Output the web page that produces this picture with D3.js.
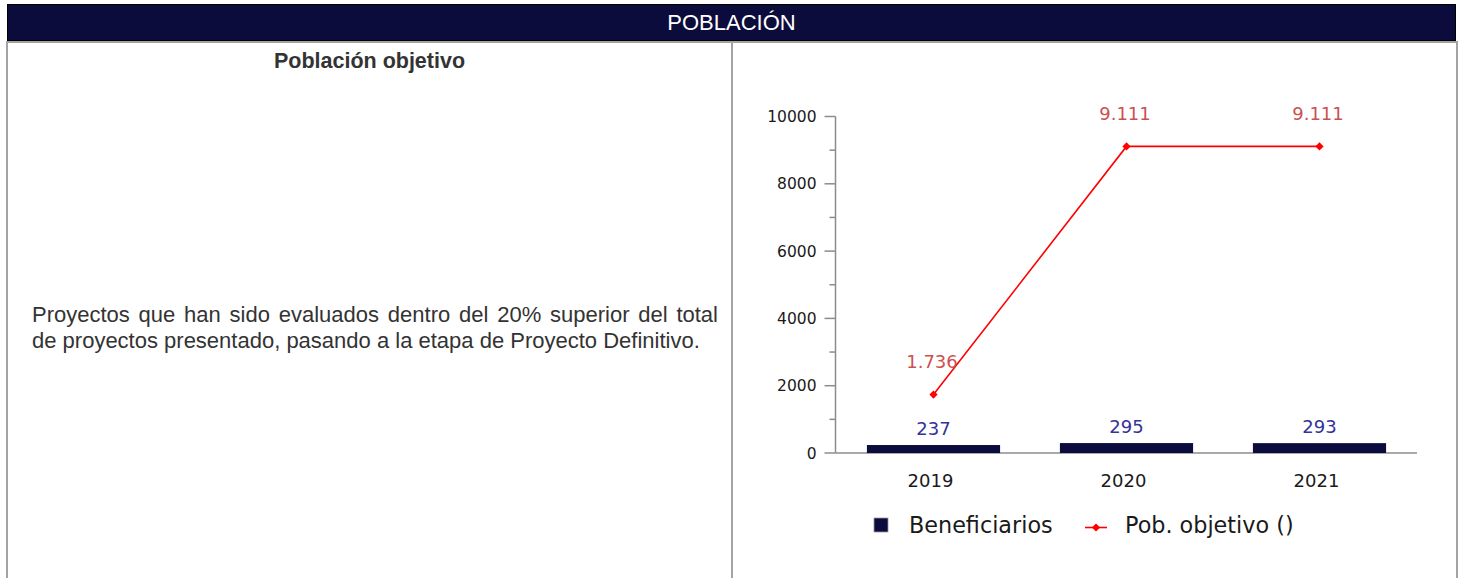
<!DOCTYPE html>
<html>
<head>
<meta charset="utf-8">
<script src="https://cdn.jsdelivr.net/npm/d3@7"></script>
<style>
  html, body { margin: 0; padding: 0; background: #fff; width: 1466px; height: 578px; overflow: hidden; }
  body { position: relative; font-family: "Liberation Sans", Arial, sans-serif; }
  .abs { position: absolute; }
  #header { left: 7px; top: 4px; width: 1447px; height: 35px; background: #0c0c3c; border: 1px solid #000;
            color: #fff; font-size: 22px; line-height: 36px; text-align: center; }
  .gline { background: #a3a3a3; }
  #subtitle { left: 7px; width: 725px; top: 49px; text-align: center; font-weight: bold; font-size: 21.5px; color: #333; }
  #desc { left: 32px; width: 686px; top: 302px; font-size: 22px; line-height: 26px; text-align: justify; color: #333; }
  svg { position: absolute; left: 0; top: 0; }
</style>
</head>
<body>
<div id="header" class="abs">POBLACIÓN</div>
<div class="abs gline" style="left:6px;top:41px;width:1452px;height:2px;"></div>
<div class="abs gline" style="left:6px;top:43px;width:1.5px;height:540px;"></div>
<div class="abs gline" style="left:731px;top:43px;width:1.5px;height:540px;"></div>
<div class="abs gline" style="left:1456px;top:43px;width:1.5px;height:540px;"></div>
<div id="subtitle" class="abs">Población objetivo</div>
<div id="desc" class="abs">Proyectos que han sido evaluados dentro del 20% superior del total de proyectos presentado, pasando a la etapa de Proyecto Definitivo.</div>
<svg id="chart" width="1466" height="578"></svg>
<script>
const years = ["2019", "2020", "2021"];
const beneficiarios = [237, 295, 293];
const beneficiariosLabels = ["237", "295", "293"];
const pobObjetivo = [1736, 9111, 9111];
const pobObjetivoLabels = ["1.736", "9.111", "9.111"];
const yTicks = [0, 2000, 4000, 6000, 8000, 10000];
const yMinorTicks = [1000, 3000, 5000, 7000, 9000];
const legendLabels = ["Beneficiarios", "Pob. objetivo ()"];

const svg = d3.select("#chart");
const chartFont = "'DejaVu Sans', sans-serif";
const axisColor = "#8c8c8c";
const barColor = "#0b0b3d";
const lineColor = "#ff0000";

const y = d3.scaleLinear().domain([0, 10000]).range([453, 116.5]);
const x = d3.scaleBand().domain(years).range([837, 1416]).paddingInner(0.31).paddingOuter(0.155);

const axisLeftX = 835.5, axisRightX = 1417;

// y axis
const gY = svg.append("g").attr("transform", `translate(${axisLeftX},0)`);
gY.append("line").attr("x1", 0).attr("x2", 0).attr("y1", y(10000)).attr("y2", y(0))
  .attr("stroke", axisColor).attr("stroke-width", 1.5);
gY.selectAll("line.major").data(yTicks).enter().append("line").attr("class", "major")
  .attr("x1", -11).attr("x2", 0).attr("y1", d => y(d)).attr("y2", d => y(d))
  .attr("stroke", axisColor).attr("stroke-width", 1.5);
gY.selectAll("line.minor").data(yMinorTicks).enter().append("line").attr("class", "minor")
  .attr("x1", -6).attr("x2", 0).attr("y1", d => y(d)).attr("y2", d => y(d))
  .attr("stroke", axisColor).attr("stroke-width", 1.5);
gY.selectAll("text").data(yTicks).enter().append("text")
  .attr("x", -19).attr("y", d => y(d)).attr("dy", "0.36em")
  .attr("text-anchor", "end").attr("font-family", chartFont).attr("font-size", 15.5)
  .attr("fill", "#1a1a1a").text(d => d);

// x axis
svg.append("line").attr("x1", axisLeftX).attr("x2", axisRightX).attr("y1", y(0)).attr("y2", y(0))
  .attr("stroke", axisColor).attr("stroke-width", 1.5);
svg.selectAll("text.xtick").data(years).enter().append("text").attr("class", "xtick")
  .attr("x", d => x(d) + x.bandwidth() / 2 - 3).attr("y", 487)
  .attr("text-anchor", "middle").attr("font-family", chartFont).attr("font-size", 18)
  .attr("fill", "#1a1a1a").text(d => d);

// bars
svg.selectAll("rect.bar").data(years).enter().append("rect").attr("class", "bar")
  .attr("x", d => x(d)).attr("width", x.bandwidth())
  .attr("y", (d, i) => y(beneficiarios[i])).attr("height", (d, i) => y(0) - y(beneficiarios[i]))
  .attr("fill", barColor);
svg.selectAll("text.barlabel").data(years).enter().append("text").attr("class", "barlabel")
  .attr("x", d => x(d) + x.bandwidth() / 2).attr("y", (d, i) => y(beneficiarios[i]) - 10)
  .attr("text-anchor", "middle").attr("font-family", chartFont).attr("font-size", 18)
  .attr("fill", "#33339a").text((d, i) => beneficiariosLabels[i]);

// line
const cx = d => x(d) + x.bandwidth() / 2;
const line = d3.line().x((d, i) => cx(years[i])).y(d => y(d));
svg.append("path").datum(pobObjetivo).attr("d", line)
  .attr("fill", "none").attr("stroke", lineColor).attr("stroke-width", 1.6);
const diamond = d3.symbol().type(d3.symbolSquare).size(34);
svg.selectAll("path.marker").data(pobObjetivo).enter().append("path").attr("class", "marker")
  .attr("d", diamond).attr("transform", (d, i) => `translate(${cx(years[i])},${y(d)}) rotate(45)`)
  .attr("fill", lineColor);
svg.selectAll("text.linelabel").data(pobObjetivo).enter().append("text").attr("class", "linelabel")
  .attr("x", (d, i) => cx(years[i]) - 1.5).attr("y", d => y(d) - 26.5)
  .attr("text-anchor", "middle").attr("font-family", chartFont).attr("font-size", 18)
  .attr("fill", "#cc5050").text((d, i) => pobObjetivoLabels[i]);

// legend
const lg = svg.append("g");
lg.append("rect").attr("x", 874).attr("y", 518).attr("width", 14).attr("height", 14)
  .attr("fill", barColor).attr("stroke", "#999").attr("stroke-width", 0.8);
lg.append("text").attr("x", 909).attr("y", 533).attr("font-family", chartFont).attr("font-size", 22.3)
  .attr("fill", "#1a1a1a").text(legendLabels[0]);
lg.append("line").attr("x1", 1085).attr("x2", 1107).attr("y1", 527.5).attr("y2", 527.5)
  .attr("stroke", lineColor).attr("stroke-width", 1.6);
lg.append("path").attr("d", diamond).attr("transform", "translate(1096,527.5) rotate(45)").attr("fill", lineColor);
lg.append("text").attr("x", 1125).attr("y", 533).attr("font-family", chartFont).attr("font-size", 22.3)
  .attr("fill", "#1a1a1a").text(legendLabels[1]);
</script>
</body>
</html>
